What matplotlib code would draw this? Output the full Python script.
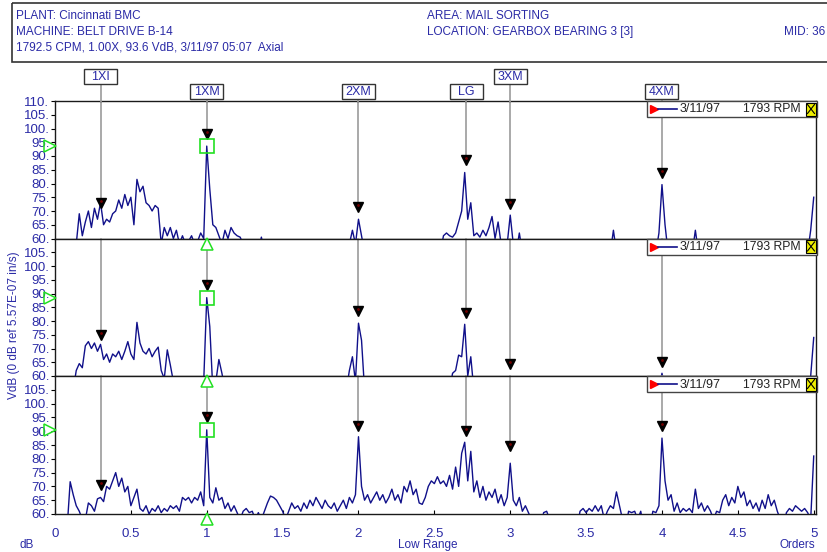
import numpy as np
import matplotlib
matplotlib.use('Agg')
import matplotlib.pyplot as plt
from matplotlib.patches import Rectangle

plt.rcParams['font.family'] = ['Liberation Sans', 'DejaVu Sans']

# ---- data -------------------------------------------------------------
orders = np.linspace(0, 5, 251)   # 0.02 order resolution

spec_top = [
    55, 55, 55, 55, 55, 55, 55, 58, 69, 61,
    66, 70, 64, 71, 67, 73, 65, 67, 66, 69,
    70, 74, 71, 76, 72, 75, 65, 81.5, 77, 79,
    73, 72, 70, 72, 71, 58, 64, 61, 64, 60,
    63, 58, 61, 58, 59, 61, 58, 59, 62, 60,
    93.6, 78, 65, 64, 61, 58, 63, 60, 64, 62,
    61, 60.5, 58, 55, 55, 55, 55, 55, 60.5, 55,
    55, 55, 55, 55, 55, 55, 55, 55, 55, 55,
    55, 55, 55, 55, 55, 55, 55, 55, 55, 55,
    55, 55, 55, 55, 55, 55, 55, 58, 63, 58,
    67, 61, 55, 55, 55, 55, 55, 55, 55, 55,
    55, 55, 55, 55, 55, 55, 55, 55, 55, 55,
    55, 55, 55, 55, 55, 55, 55, 55, 61, 62,
    61, 60.5, 62, 66, 70, 84, 67, 73, 61, 62,
    60.5, 63, 61, 64, 68, 60, 66, 58, 55, 58,
    68.5, 58, 55, 62, 55, 55, 55, 55, 55, 55,
    55, 55, 55, 55, 55, 55, 55, 55, 55, 55,
    55, 55, 55, 55, 55, 55, 55, 55, 55, 55,
    55, 55, 55, 55, 63, 55, 55, 55, 55, 55,
    55, 55, 55, 55, 55, 55, 55, 55, 55, 62,
    79.6, 65, 55, 55, 55, 55, 55, 55, 55, 55,
    55, 63, 55, 55, 55, 55, 55, 55, 55, 55,
    55, 55, 55, 55, 55, 55, 55, 55, 55, 55,
    55, 55, 55, 55, 55, 55, 55, 55, 55, 55,
    55, 55, 55, 55, 55, 55, 55, 55, 55, 63,
    75,
]

spec_mid = [
    55, 55, 55, 55, 55, 55, 55, 62, 64.5, 63,
    71, 72.5, 70, 72, 69, 71.5, 66, 68, 65, 68,
    67, 69, 66, 69, 72.5, 68, 66, 79.5, 72, 69,
    68, 70, 67, 69, 70.5, 62, 59, 69.5, 64, 58,
    55, 55, 55, 55, 55, 55, 55, 55, 55, 58,
    88.5, 78, 55, 58, 66, 61, 55, 55, 55, 55,
    55, 55, 55, 55, 55, 55, 55, 55, 55, 55,
    55, 55, 55, 55, 55, 55, 55, 55, 55, 55,
    55, 55, 55, 55, 55, 55, 55, 55, 55, 55,
    55, 55, 55, 55, 55, 55, 55, 62, 67, 58,
    79.2, 73, 55, 55, 55, 55, 55, 55, 55, 55,
    55, 55, 55, 55, 55, 55, 55, 55, 55, 55,
    55, 55, 55, 55, 55, 55, 55, 55, 55, 55,
    55, 61, 62, 67.6, 67, 78.8, 60, 67, 55, 55,
    55, 55, 55, 55, 55, 55, 55, 55, 55, 55,
    55, 55, 55, 55, 55, 55, 55, 55, 55, 55,
    55, 55, 55, 55, 55, 55, 55, 55, 55, 55,
    55, 55, 55, 55, 55, 55, 55, 55, 55, 55,
    55, 55, 55, 55, 55, 55, 55, 55, 55, 55,
    55, 55, 55, 55, 55, 55, 55, 55, 55, 55,
    61, 55, 55, 55, 55, 55, 55, 55, 55, 55,
    55, 55, 55, 55, 55, 55, 55, 55, 55, 55,
    55, 55, 55, 55, 55, 55, 55, 55, 55, 55,
    55, 55, 55, 55, 55, 55, 55, 55, 55, 55,
    55, 55, 55, 55, 55, 55, 55, 55, 55, 60,
    74,
]

spec_bot = [
    55, 55, 55, 55, 55, 71.7, 67, 63, 61, 58,
    58, 64, 63, 61, 65.5, 66, 64.5, 70, 69, 72,
    75, 70, 73, 68, 70, 63, 66, 69, 62, 61,
    63, 60, 62, 61, 63, 60.5, 62, 61, 63, 62,
    63, 61, 66, 65, 66, 64, 66, 65, 68, 63,
    90.5, 66, 64, 69.5, 65, 66, 62, 64, 61, 63,
    60.5, 58, 61, 62, 60.5, 61, 58, 60.5, 58, 61,
    64, 66.5, 66, 65, 63, 61, 58, 61, 64, 62,
    63, 61, 64, 62, 65, 63, 66, 64, 62, 65,
    63, 62, 64, 61, 63, 65, 62, 66, 64, 67,
    88, 70, 65, 67, 64, 66, 68, 65, 67, 64,
    66, 69, 65, 67, 64, 70, 68, 72, 67, 69,
    64, 63.5, 66, 70, 72, 71, 73.5, 71, 72, 70,
    74, 69, 77, 70, 82, 86, 72, 82.7, 68, 72,
    66, 70, 65, 68, 66, 69, 64, 67, 63, 66,
    78.4, 65, 63, 66, 61, 63, 60.5, 58, 55, 55,
    55, 60.5, 61, 58, 55, 55, 55, 55, 55, 55,
    55, 55, 55, 61, 62, 60.5, 62, 61, 63, 61,
    63, 58, 61, 63, 62, 68, 63, 58, 55, 61,
    60.5, 61, 58, 61, 55, 55, 55, 61, 60.5, 63,
    87.5, 72, 65, 67, 61, 64, 60.5, 62, 61, 62,
    60.5, 69, 62, 64, 61, 63, 61, 58, 61, 60.5,
    65, 67, 63, 66, 64, 70, 66, 68, 63, 65,
    62, 64, 61, 65, 62, 67, 63, 65, 61, 58,
    55, 60.5, 62, 61, 63, 62, 61, 62, 60.5, 58,
    81,
]

marker_names = ['1XI', '1XM', '2XM', 'LG', '3XM', '4XM']
marker_orders = [0.30, 1.00, 2.00, 2.71, 3.00, 4.00]
arrow_top = [73, 98, 71.5, 88.5, 72.5, 84]
arrow_mid = [75, 93, 83.5, 83, 64.5, 65]
arrow_bot = [70.5, 95, 92, 90, 84.5, 92]
peak_1xm = [93.6, 88.5, 90.4]

header_left = ['PLANT: Cincinnati BMC', 'MACHINE: BELT DRIVE B-14',
               '1792.5 CPM, 1.00X, 93.6 VdB, 3/11/97 05:07  Axial']
header_right = ['AREA: MAIL SORTING', 'LOCATION: GEARBOX BEARING 3 [3]']
legend_date = '3/11/97'
legend_rpm = '1793 RPM'

# ---- styling / layout -------------------------------------------------
W, H = 827, 552
BLUE = '#2a2aa6'
LINE = '#10108a'
GRAY = '#a3a3a3'
GREEN = '#22e022'

spectra = [spec_top, spec_mid, spec_bot]
arrows = [arrow_top, arrow_mid, arrow_bot]
tops = [101, 238.5, 376]
bottoms = [238.5, 376, 514]
box_row_top = [69, 84, 84, 84, 69, 84]


def px_rect(x0, y0, x1, y1):
    return [x0 / W, 1 - y1 / H, (x1 - x0) / W, (y1 - y0) / H]


fig = plt.figure(figsize=(W / 100, H / 100), dpi=100)

axes = []
for k in range(3):
    ax = fig.add_axes(px_rect(55, tops[k], 816, bottoms[k]))
    ax.set_xlim(0, 5.015)
    ax.set_ylim(60, 110)
    ax.plot(orders, spectra[k], color=LINE, lw=1.0, zorder=3)

    ticks = list(range(60, 111, 5)) if k == 0 else list(range(60, 106, 5))
    ax.set_yticks(ticks)
    ax.set_yticklabels([f'{t}.' for t in ticks])
    ax.tick_params(axis='y', direction='out', length=3, width=0.8,
                   labelsize=9.5, labelcolor=BLUE, pad=1)
    for s in ax.spines.values():
        s.set_color('#1a1a1a')
        s.set_linewidth(1.0)

    # order marker lines and arrows
    for o, ya in zip(marker_orders, arrows[k]):
        ax.plot([o, o], [110, ya + 1.5], color=GRAY, lw=1.3, zorder=2,
                clip_on=False)
        ax.plot(o, ya, marker='v', ms=7, color='black', zorder=6,
                clip_on=False)
        ax.plot(o, ya + 0.7, marker='o', ms=1.0, color='#700000', zorder=7,
                clip_on=False)

    # green cursor marks on 1XM peak
    pk = peak_1xm[k]
    ax.plot(1.0, pk, marker='s', ms=10.5, mfc='none', mec=GREEN, mew=1.2,
            zorder=7, clip_on=False)
    ax.plot(-0.035, pk, marker='>', ms=8, mfc='none', mec=GREEN, mew=1.1,
            zorder=8, clip_on=False)

    if k < 2:
        ax.set_xticks([])
    else:
        xt = np.arange(0, 5.01, 0.5)
        ax.set_xticks(xt)
        ax.set_xticklabels(['0', '0.5', '1', '1.5', '2', '2.5', '3', '3.5',
                            '4', '4.5', '5'])
        ax.tick_params(axis='x', direction='in', length=3, width=0.8,
                       labelsize=9.5, labelcolor=BLUE, pad=10)
    axes.append(ax)

# overlay in pixel coordinates for the annotation furniture
ov = fig.add_axes([0, 0, 1, 1], zorder=10)
ov.set_xlim(0, W)
ov.set_ylim(H, 0)
ov.axis('off')

# green cursor triangles under each panel at 1XM
x1 = axes[0].transData.transform((1.0, 60))[0]
for b in bottoms:
    ov.plot(x1, b + 5, marker='^', ms=9, mfc='white', mec=GREEN, mew=1.1,
            zorder=8, clip_on=False)

# header box
ov.add_patch(Rectangle((12, 3), 840, 59, fill=False, ec='#333333', lw=1.2,
                       clip_on=False))
for i, t in enumerate(header_left):
    ov.text(16, 16 + 16 * i, t, fontsize=8.5, color=BLUE, va='center')
for i, t in enumerate(header_right):
    ov.text(427, 16 + 16 * i, t, fontsize=8.5, color=BLUE, va='center')
ov.text(825, 32, 'MID: 36', fontsize=8.5, color=BLUE, va='center',
        ha='right')

# marker label boxes above top panel
for name, o, bt in zip(marker_names, marker_orders, box_row_top):
    xp = axes[0].transData.transform((o, 60))[0]
    ov.plot([xp, xp], [bt + 15, 101], color=GRAY, lw=1.3, zorder=1)
    ov.add_patch(Rectangle((xp - 16.5, bt), 33, 15, fc='white', ec='#333333',
                           lw=1.0, zorder=3))
    ov.text(xp, bt + 8, name, fontsize=9, color=BLUE, ha='center',
            va='center', zorder=4)

# legend boxes in each panel
for top in tops:
    ov.add_patch(Rectangle((647, top), 170, 16, fc='white', ec='#444444',
                           lw=1.0, zorder=5))
    ov.plot([654], [top + 8], marker='>', ms=6, color='red', zorder=6)
    ov.plot([658, 677], [top + 8, top + 8], color=LINE, lw=1.2, zorder=6)
    ov.text(680, top + 8.5, legend_date, fontsize=9, color='#222222',
            va='center', zorder=6)
    ov.text(801, top + 8.5, legend_rpm, fontsize=8.8, color='#222222',
            va='center', ha='right', zorder=6)
    ov.add_patch(Rectangle((806, top + 1.5), 10, 13, fc='#eeee00', ec='black',
                           lw=0.8, zorder=6))
    ov.plot([807.5, 814.5], [top + 3.5, top + 12.5], color='black', lw=0.8,
            zorder=7)
    ov.plot([807.5, 814.5], [top + 12.5, top + 3.5], color='black', lw=0.8,
            zorder=7)

# axis captions
ov.text(14, 325, 'VdB (0 dB ref 5.57E-07 in/s)', rotation=90, fontsize=8.5,
        color=BLUE, ha='center', va='center')
ov.text(27, 545, 'dB', fontsize=8.5, color=BLUE, ha='center', va='center')
ov.text(428, 545, 'Low Range', fontsize=8.5, color=BLUE, ha='center',
        va='center')
ov.text(815, 545, 'Orders', fontsize=8.5, color=BLUE, ha='right',
        va='center')

fig.savefig('out.png', dpi=100)
